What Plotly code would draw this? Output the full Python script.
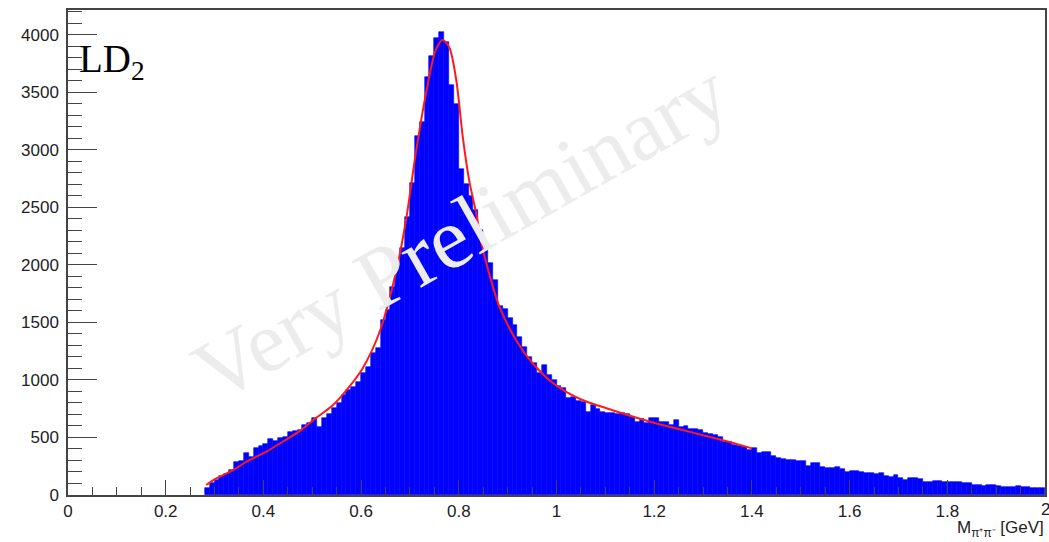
import plotly.graph_objects as go

# ---- data ----
bin_start = 0.28
bin_width = 0.01
counts = [
    60, 100, 130, 165, 185, 217, 290, 298, 362, 330,          # 0.28-0.37
    406, 426, 443, 484, 472, 493, 507, 550, 556, 565,         # 0.38-0.47
    609, 629, 667, 594, 667, 700, 754, 797, 870, 913,         # 0.48-0.57
    942, 985, 1058, 1116, 1232, 1275, 1522, 1609, 1812, 1986,  # 0.58-0.67
    2145, 2420, 2710, 3116, 3240, 3630, 3812, 3971, 4020, 3940,  # 0.68-0.77
    3565, 3400, 2830, 2700, 2600, 2480, 2300, 2130, 2015, 1870,  # 0.78-0.87
    1643, 1614, 1536, 1478, 1371, 1290, 1203, 1145, 1058, 1130,  # 0.88-0.97
    1040, 1000, 950, 930, 845, 850, 820, 812, 725, 783,        # 0.98-1.07
    750, 725, 716, 716, 705, 710, 700, 681, 638, 658,          # 1.08-1.17
    629, 667, 667, 638, 638, 609, 652, 594, 600, 571,          # 1.18-1.27
    571, 565, 536, 530, 522, 500, 464, 464, 435, 430,          # 1.28-1.37
    414, 391, 406, 362, 377, 370, 336, 318, 310, 304,          # 1.38-1.47
    304, 299, 299, 255, 275, 280, 241, 236, 234, 244,          # 1.48-1.57
    224, 196, 212, 210, 198, 188, 188, 186, 195, 168,          # 1.58-1.67
    160, 174, 150, 132, 145, 144, 142, 116, 116, 120,          # 1.68-1.77
    125, 110, 116, 115, 110, 108, 103, 90, 90, 81,             # 1.78-1.87
    87, 84, 81, 70, 67, 67, 75, 72, 72, 60,                    # 1.88-1.97
    62, 65,                                                    # 1.98-1.99
]
bin_left = [round(bin_start + bin_width * i, 4) for i in range(len(counts))]

fit_x = [0.283, 0.30, 0.338, 0.37, 0.406, 0.44, 0.474, 0.508, 0.542, 0.576,
         0.603, 0.637, 0.671, 0.692, 0.712, 0.733, 0.753, 0.767, 0.781, 0.795,
         0.808, 0.821, 0.835, 0.848, 0.865, 0.883, 0.917, 0.951, 0.985, 1.019,
         1.053, 1.087, 1.134, 1.203, 1.271, 1.339, 1.393, 1.40]
fit_y = [87, 135, 217, 300, 377, 465, 555, 670, 780, 942,
         1100, 1408, 1930, 2391, 2971, 3493, 3870, 3955, 3885, 3600,
         3116, 2739, 2460, 2159, 1880, 1638, 1348, 1145, 1000, 898,
         826, 775, 710, 623, 551, 478, 414, 405]

x_range = [0, 2]
y_range = [0, 4215]

fig = go.Figure()
fig.add_trace(go.Bar(
    x=bin_left, y=counts, width=bin_width, offset=0,
    marker=dict(color="#0000ff", line=dict(color="#0000ff", width=0.6)),
    hoverinfo="skip", showlegend=False,
))
fig.add_trace(go.Scatter(
    x=fit_x, y=fit_y, mode="lines",
    line=dict(color="#ff1a1a", width=2, shape="spline", smoothing=0.8),
    hoverinfo="skip", showlegend=False,
))

axis_font = dict(family="Liberation Sans, Arial, sans-serif", size=17, color="#222222")
fig.update_layout(
    width=1049, height=542,
    margin=dict(l=68, r=2, t=10, b=47),
    paper_bgcolor="white", plot_bgcolor="white",
    bargap=0,
    xaxis=dict(
        range=x_range, dtick=0.2, tick0=0,
        ticks="inside", ticklen=15, tickwidth=1, tickcolor="#444444",
        minor=dict(dtick=0.05, ticks="inside", ticklen=8, tickwidth=1, tickcolor="#444444"),
        showline=True, linecolor="#444444", linewidth=1.5, mirror=True,
        showgrid=False, zeroline=False, tickfont=axis_font,
    ),
    yaxis=dict(
        range=y_range, dtick=500, tick0=0,
        ticks="inside", ticklen=29, tickwidth=1, tickcolor="#444444",
        minor=dict(dtick=100, ticks="inside", ticklen=14, tickwidth=1, tickcolor="#444444"),
        showline=True, linecolor="#444444", linewidth=1.5, mirror=True,
        showgrid=False, zeroline=False, tickfont=axis_font, ticklabelstandoff=4,
    ),
    annotations=[
        dict(text="Very Preliminary", xref="paper", yref="paper",
             x=(461 - 68) / 979, y=(495 - 231) / 485, xanchor="center", yanchor="middle",
             textangle=-29.5, showarrow=False,
             font=dict(family="Liberation Serif, Times New Roman, serif", size=87, color="#ececec")),
        dict(text="LD<sub>2</sub>", xref="paper", yref="paper",
             x=(77 - 68) / 979, y=(495 - 62) / 485, xanchor="left", yanchor="middle",
             showarrow=False,
             font=dict(family="Liberation Serif, Times New Roman, serif", size=39, color="#000000")),
        dict(text="2", xref="x", yref="paper",
             x=2, y=(495 - 509.5) / 485, xanchor="center", yanchor="middle",
             showarrow=False, font=axis_font),
        dict(text="M<sub>π⁺π⁻</sub> [GeV]", xref="paper", yref="paper",
             x=1.0, y=(495 - 517) / 485, xanchor="right", yanchor="top",
             borderpad=0,
             showarrow=False, font=dict(family="Liberation Sans, Arial, sans-serif", size=17, color="#222222")),
    ],
)

fig.write_html("out.html")
